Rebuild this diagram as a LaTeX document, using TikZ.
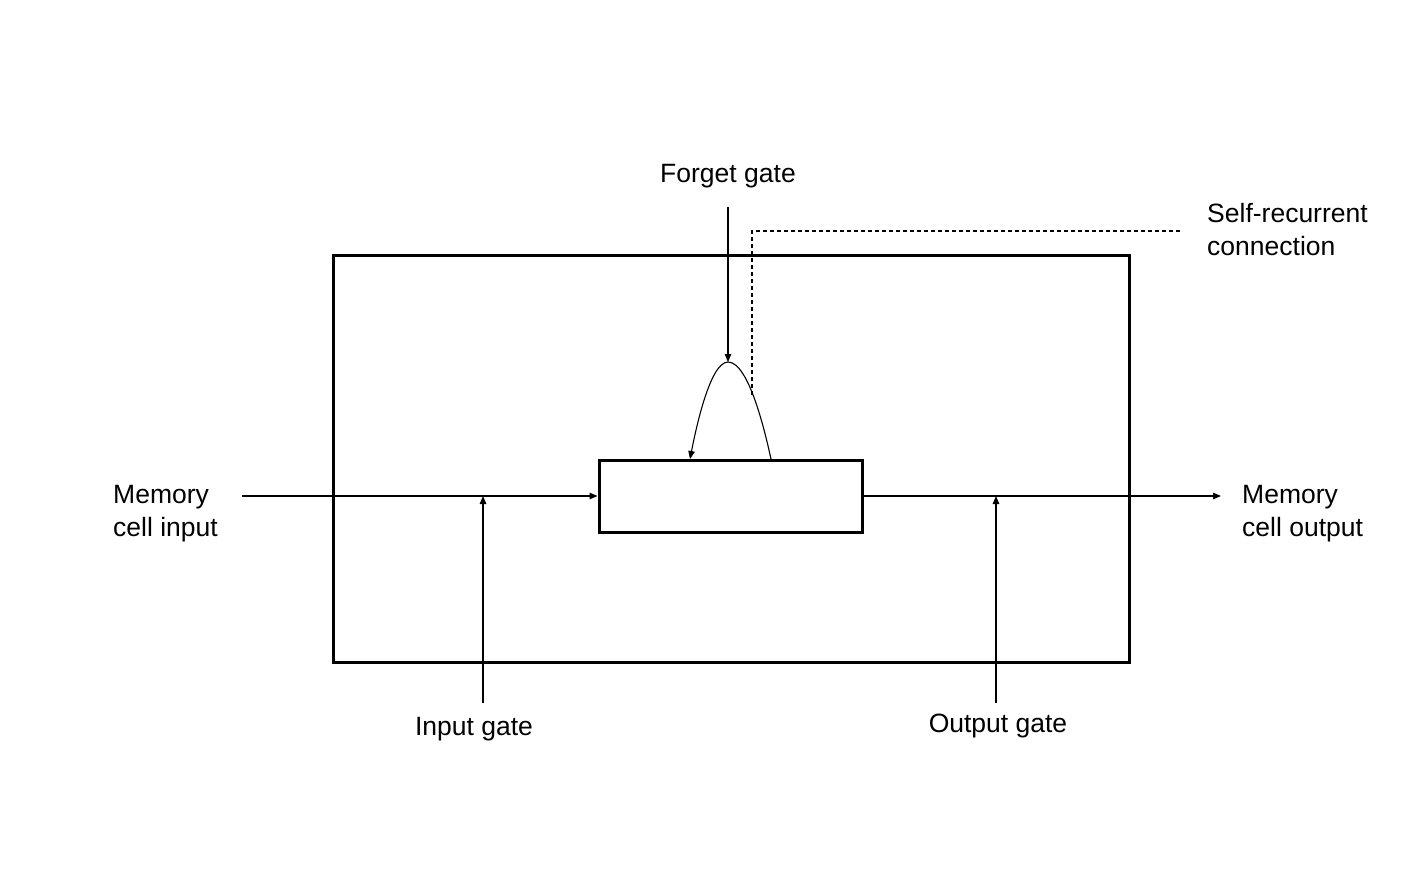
\documentclass[tikz,border=0pt]{standalone}
\usepackage{fontspec}
\setmainfont{Liberation Sans}
\usetikzlibrary{arrows.meta}
\begin{document}
\begin{tikzpicture}[x=1pt,y=-1pt,
  lbl/.style={inner sep=0pt,font=\fontsize{26.5}{33}\selectfont,align=left},
  box/.style={draw,line width=3pt,inner sep=0pt},
  conn/.style={line width=1.1pt},
  arr/.style={conn,-{Triangle[length=8pt,width=6.5pt]}},
  dots/.style={line width=1.6pt,dash pattern=on 4pt off 3pt}]
\useasboundingbox (0,0) rectangle (1408,870);
\node[box,minimum width=796pt,minimum height=407pt] (outer) at (731,458.5) {};
\node[box,minimum width=263pt,minimum height=72pt] (cell) at (730.5,496) {};
% labels (base anchor = baseline of last line)
\node[lbl,anchor=base west] (min) at (113,536) {Memory\\cell input};
\node[lbl,anchor=base west] (mout) at (1242,536) {Memory\\cell output};
\node[lbl,anchor=base] (ig) at (474,735) {Input gate};
\node[lbl,anchor=base] (og) at (998,732) {Output gate};
\node[lbl,anchor=base] (fg) at (728,182) {Forget gate};
\node[lbl,anchor=base west] (src) at (1207,255) {Self-recurrent\\connection};
% coordinates
\coordinate (inS) at (242,496);
\coordinate (outE) at (1221,496);
\coordinate (igS) at (483,703);
\coordinate (igE) at (483,496);
\coordinate (ogS) at (996,703);
\coordinate (ogE) at (996,496);
\coordinate (fgS) at (728,207);
\coordinate (peak) at (728,362);
\coordinate (loopS) at (771,459);
\coordinate (loopE) at (690,459);
\coordinate (dotS) at (752,395);
\coordinate (dotE) at (1182,231);
% connectors
\draw[arr] (inS) -- (cell.west);
\draw[arr] (cell.east) -- (outE);
\draw[arr] (igS) -- (igE);
\draw[arr] (ogS) -- (ogE);
\draw[arr] (fgS) -- (peak);
\draw[arr] (loopS) parabola bend (peak) (loopE);
\draw[dots] (dotS) |- (dotE);
\end{tikzpicture}
\end{document}
